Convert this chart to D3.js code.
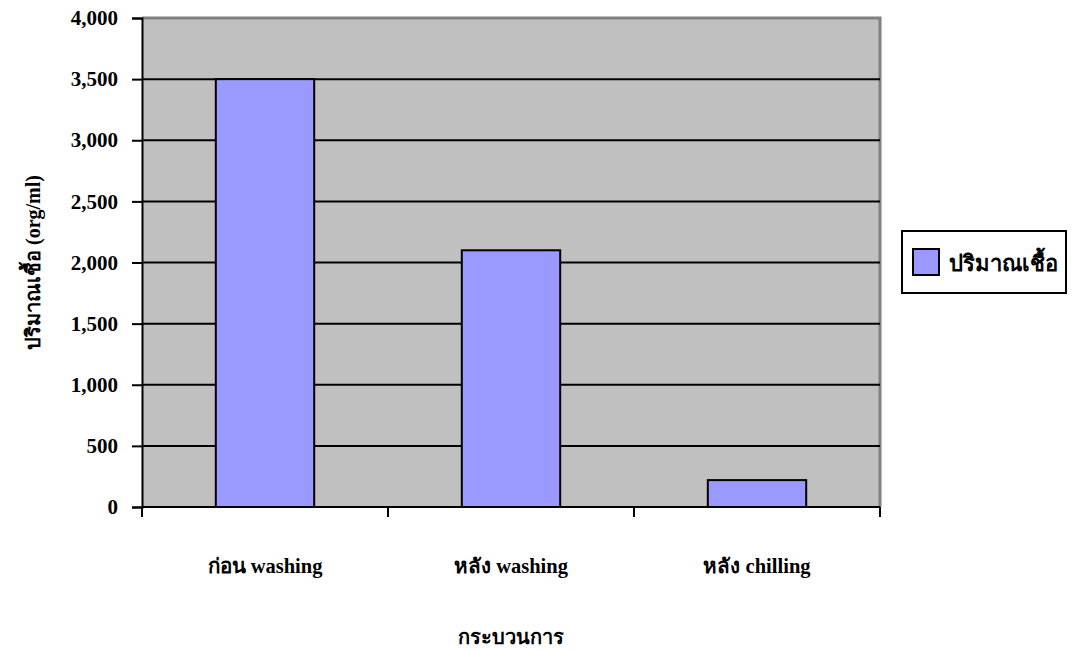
<!DOCTYPE html>
<html>
<head>
<meta charset="utf-8">
<script src="https://cdn.jsdelivr.net/npm/d3@7"></script>
<style>
  body { margin: 0; background: #fff; }
  svg text { font-family: "Liberation Serif", "Times New Roman", serif; font-weight: bold; fill: #000; }
</style>
</head>
<body>
<svg id="chart" width="1073" height="650"></svg>
<script>
// Bacteria count at each processing stage
const categories = ["ก่อน washing", "หลัง washing", "หลัง chilling"];
const values = [3500, 2100, 220];
const yTicks = [0, 500, 1000, 1500, 2000, 2500, 3000, 3500, 4000];
const seriesName = "ปริมาณเชื้อ";
const yTitle = "ปริมาณเชื้อ (org/ml)";
const xTitle = "กระบวนการ";

const svg = d3.select("#chart");
const plot = { left: 142, top: 18, right: 880, bottom: 507 };

const x = d3.scaleBand()
  .domain(categories)
  .range([plot.left, plot.right])
  .paddingInner(0.6)
  .paddingOuter(0.3);

const y = d3.scaleLinear()
  .domain([0, 4000])
  .range([plot.bottom, plot.top]);

// plot background
svg.append("rect")
  .attr("x", plot.left).attr("y", plot.top)
  .attr("width", plot.right - plot.left).attr("height", plot.bottom - plot.top)
  .attr("fill", "#c0c0c0");

// top/right frame
svg.append("path")
  .attr("d", `M${plot.left},${plot.top}H${plot.right}V${plot.bottom}`)
  .attr("fill", "none").attr("stroke", "#808080").attr("stroke-width", 3);

// horizontal gridlines
svg.append("g").selectAll("line")
  .data(yTicks.filter(d => d > 0 && d < 4000))
  .join("line")
  .attr("x1", plot.left).attr("x2", plot.right)
  .attr("y1", d => y(d)).attr("y2", d => y(d))
  .attr("stroke", "#000").attr("stroke-width", 2);

// bars
svg.append("g").selectAll("rect")
  .data(values)
  .join("rect")
  .attr("x", (d, i) => x(categories[i]))
  .attr("y", d => y(d))
  .attr("width", x.bandwidth())
  .attr("height", d => y(0) - y(d))
  .attr("fill", "#9999ff")
  .attr("stroke", "#000").attr("stroke-width", 2);

// y axis
const yAxis = d3.axisLeft(y)
  .tickValues(yTicks)
  .tickSize(10)
  .tickPadding(14)
  .tickFormat(d3.format(","));
const gy = svg.append("g")
  .attr("transform", `translate(${plot.left},0)`)
  .call(yAxis);
gy.select(".domain").attr("stroke", "#000").attr("stroke-width", 2);
gy.selectAll(".tick line").attr("stroke", "#000").attr("stroke-width", 2);
gy.selectAll(".tick text")
  .attr("font-size", 21)
  .attr("font-family", "Liberation Serif, serif")
  .attr("font-weight", "bold")
  .attr("fill", "#000");

// x axis: tick marks at category boundaries
const boundaries = [plot.left, ...categories.slice(1).map(c => x(c) - x.step() * x.paddingInner() / 2), plot.right];
const gx = svg.append("g");
gx.append("line")
  .attr("x1", plot.left).attr("x2", plot.right)
  .attr("y1", plot.bottom).attr("y2", plot.bottom)
  .attr("stroke", "#000").attr("stroke-width", 2);
gx.selectAll(".tk")
  .data(boundaries)
  .join("line")
  .attr("class", "tk")
  .attr("x1", d => d).attr("x2", d => d)
  .attr("y1", plot.bottom).attr("y2", plot.bottom + 10)
  .attr("stroke", "#000").attr("stroke-width", 2);
gx.selectAll(".lbl")
  .data(categories)
  .join("text")
  .attr("class", "lbl")
  .attr("x", d => x(d) + x.bandwidth() / 2)
  .attr("y", 573)
  .attr("text-anchor", "middle")
  .attr("font-size", 20.5)
  .text(d => d);

// axis titles
svg.append("text")
  .attr("transform", `translate(40,${(plot.top + plot.bottom) / 2}) rotate(-90)`)
  .attr("text-anchor", "middle")
  .attr("font-size", 20)
  .text(yTitle);

svg.append("text")
  .attr("x", (plot.left + plot.right) / 2)
  .attr("y", 644)
  .attr("text-anchor", "middle")
  .attr("font-size", 20)
  .text(xTitle);

// legend
const lg = svg.append("g").attr("transform", "translate(902,231)");
lg.append("rect")
  .attr("width", 164).attr("height", 62)
  .attr("fill", "#fff").attr("stroke", "#000").attr("stroke-width", 2);
lg.append("rect")
  .attr("x", 11).attr("y", 18).attr("width", 26).attr("height", 26)
  .attr("fill", "#9999ff").attr("stroke", "#000").attr("stroke-width", 2);
lg.append("text")
  .attr("x", 47).attr("y", 40)
  .attr("font-size", 22)
  .text(seriesName);
</script>
</body>
</html>
